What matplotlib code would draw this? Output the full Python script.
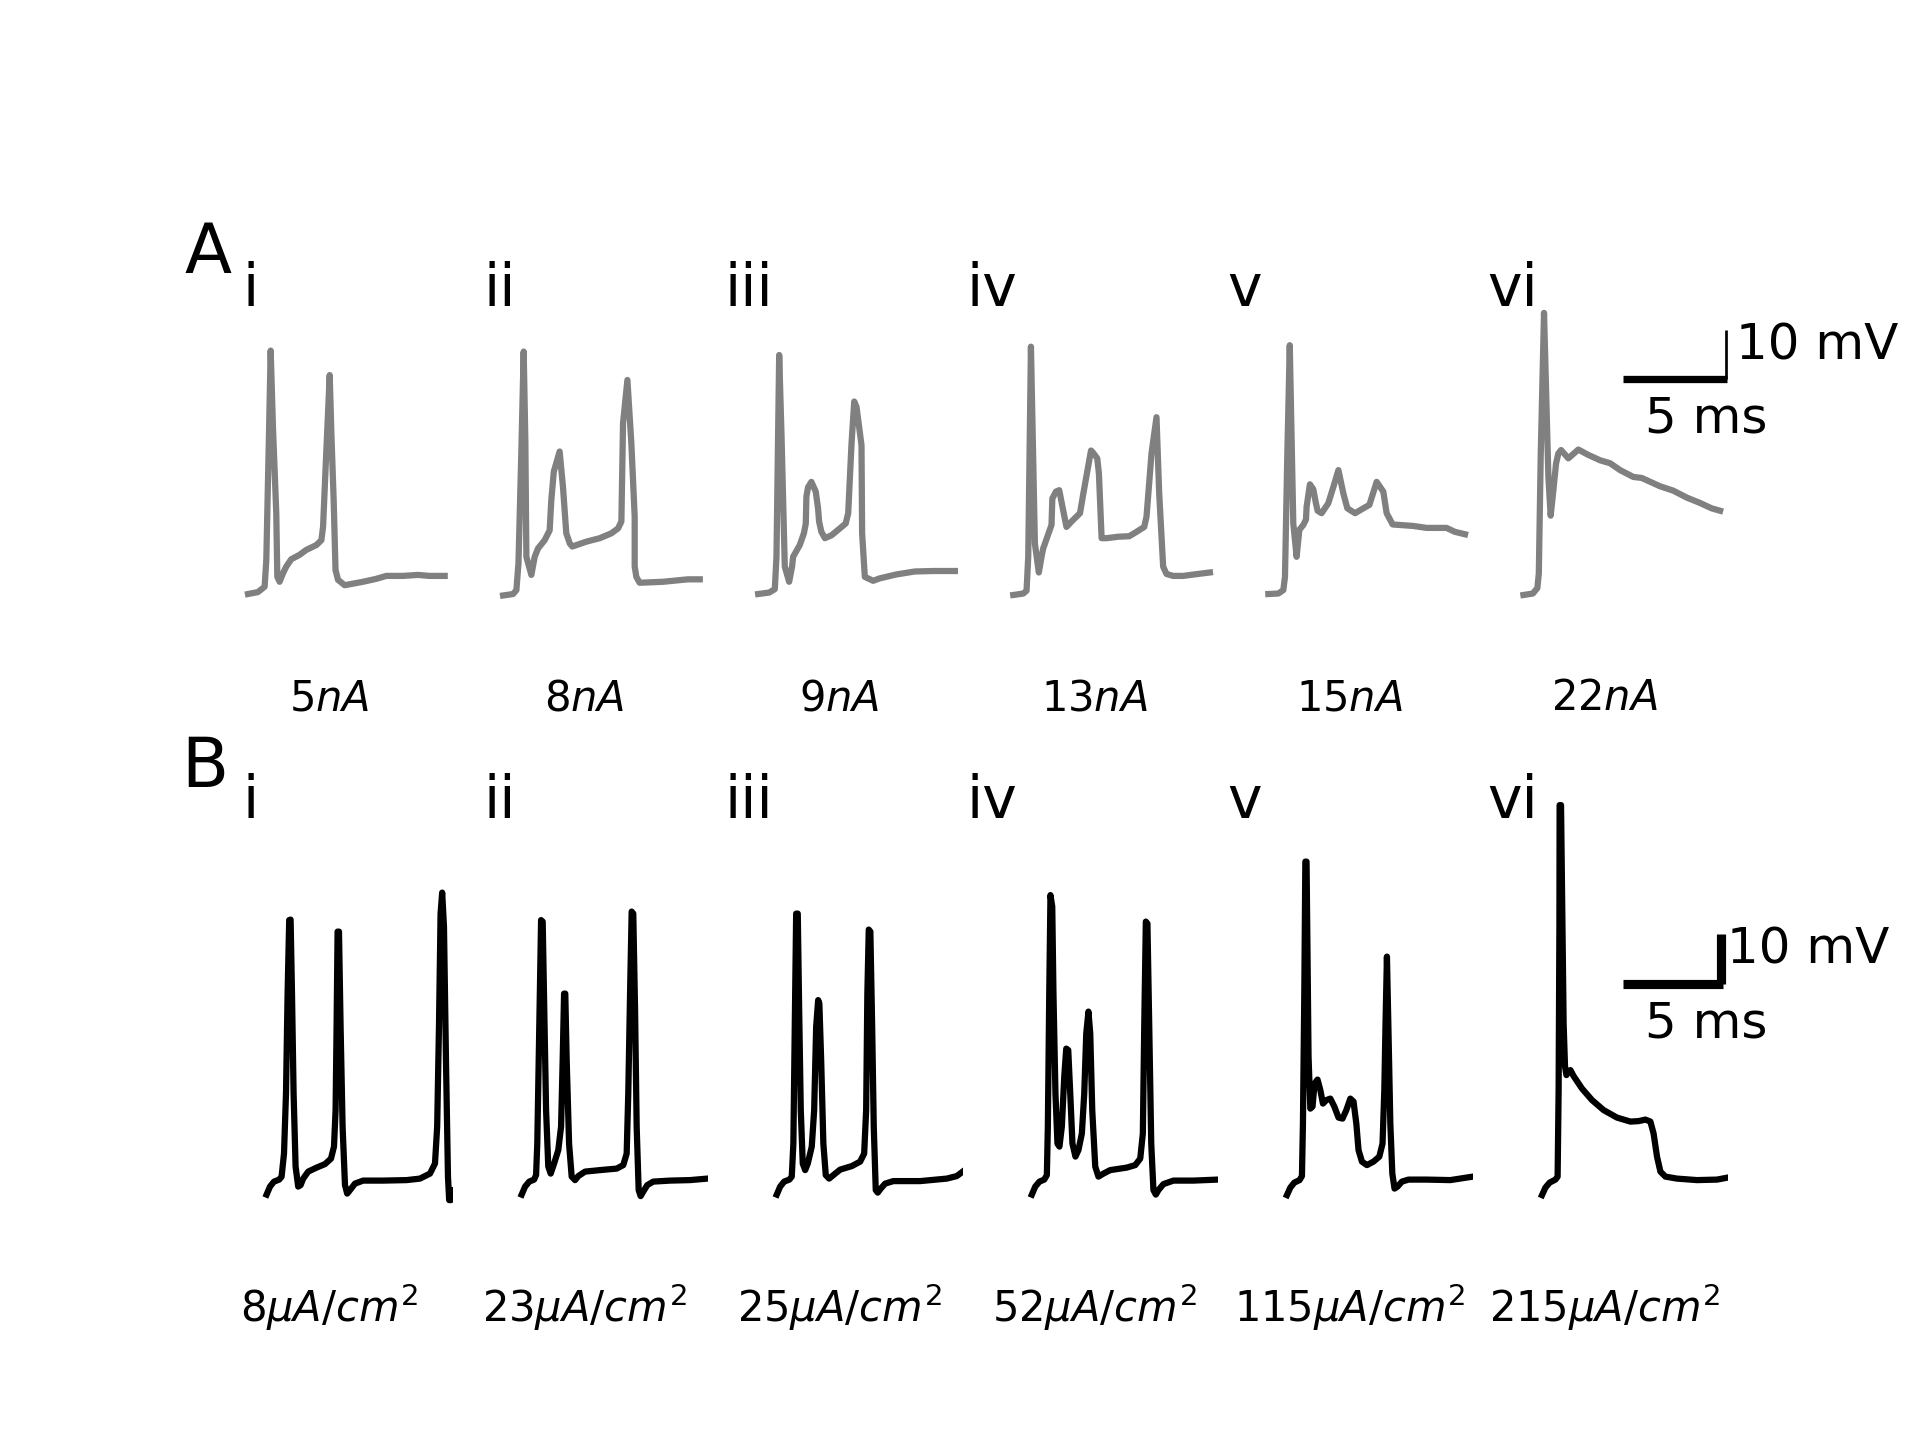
import matplotlib
matplotlib.use("Agg")
import matplotlib.pyplot as plt

# ---- data: recordings (A, grey) and model (B, black); time in ms, voltage in mV ----
a_i_t = [0, 0.48, 0.80, 0.88, 1.01, 1.09, 1.20, 1.36, 1.41, 1.52, 1.68, 1.84, 2.08, 2.48, 2.80, 3.29,
         3.53, 3.61, 3.77, 3.93, 4.01, 4.12, 4.21, 4.33, 4.65, 5.53, 6.17, 6.65, 7.45, 8.17, 8.73, 9.46]
a_i_v = [-70, -69.6, -68.5, -63.1, -37.2, -20.3, -35.9, -53.5, -66.5, -67.5, -65.8, -64.4, -62.9, -62.0,
         -61.0, -60.0, -59.0, -56.3, -40.6, -25.3, -37.2, -50.8, -65.1, -67.1, -68.2, -67.5, -66.9, -66.3,
         -66.3, -66.1, -66.3, -66.3]

a_ii_t = [0, 0.48, 0.64, 0.74, 0.88, 0.99, 1.07, 1.12, 1.36, 1.52, 1.68, 2.00, 2.24, 2.32, 2.44, 2.72,
          2.88, 3.04, 3.21, 3.33, 4.01, 4.65, 5.21, 5.53, 5.69, 5.77, 5.98, 6.17, 6.33, 6.33, 6.41, 6.57,
          7.69, 8.89, 9.46]
a_ii_v = [-70.3, -70, -69.2, -63.7, -40.6, -20.5, -38.6, -62.4, -66.1, -62.4, -60.7, -59.0, -57.0, -50.8,
          -45.0, -40.9, -48.1, -57.6, -59.7, -60.3, -59.3, -58.6, -57.6, -56.6, -55.2, -35.1, -26.3, -39.3,
          -54.2, -64.4, -66.5, -67.7, -67.5, -67.0, -67.0]

a_iii_t = [0, 0.53, 0.80, 0.88, 1.01, 1.12, 1.20, 1.28, 1.49, 1.63, 1.68, 2.00, 2.20, 2.29, 2.32, 2.40,
           2.56, 2.77, 2.88, 2.93, 3.04, 3.21, 3.53, 3.93, 4.21, 4.33, 4.49, 4.62, 4.73, 4.97, 5.00, 5.13,
           5.53, 5.85, 6.65, 7.53, 8.41, 9.46]
a_iii_v = [-70, -69.7, -69.0, -62.4, -21.2, -37.2, -50.8, -64.4, -67.5, -64.4, -62.4, -60.0, -57.6, -55.6,
           -50.1, -48.2, -47.1, -49.1, -52.5, -55.2, -57.3, -58.6, -58.0, -56.6, -55.6, -53.5, -39.3, -30.7,
           -31.8, -39.6, -57.6, -66.5, -67.3, -66.8, -66.0, -65.4, -65.3, -65.3]

a_iv_t = [0, 0.48, 0.64, 0.72, 0.85, 0.96, 1.04, 1.23, 1.36, 1.44, 1.84, 1.88, 2.05, 2.21, 2.40, 2.56,
          2.80, 3.21, 3.37, 3.74, 3.85, 4.04, 4.12, 4.25, 4.49, 5.05, 5.58, 5.93, 6.30, 6.41, 6.65, 6.89,
          7.02, 7.21, 7.37, 7.69, 8.17, 8.89, 9.46]
a_iv_v = [-70.2, -69.9, -69.3, -62.4, -19.5, -42.7, -59.7, -65.6, -62.4, -60.7, -55.9, -50.5, -49.1, -48.8,
          -52.9, -56.3, -55.2, -53.5, -49.5, -40.7, -41.2, -42.3, -45.4, -58.6, -58.6, -58.3, -58.2, -57.3,
          -56.3, -54.2, -41.3, -33.9, -49.5, -64.4, -65.9, -66.3, -66.3, -65.9, -65.6]

a_v_t = [0, 0.48, 0.72, 0.80, 0.91, 1.03, 1.12, 1.20, 1.36, 1.49, 1.68, 1.81, 1.84, 2.00, 2.16, 2.29,
         2.37, 2.56, 2.88, 3.13, 3.37, 3.61, 3.80, 4.17, 4.57, 4.86, 5.21, 5.53, 5.69, 5.98, 6.97, 7.61,
         8.57, 8.97, 9.46]
a_v_v = [-70, -69.9, -69.2, -66.5, -42.0, -19.2, -38.6, -55.6, -62.4, -56.9, -55.9, -54.8, -52.2, -47.6,
         -48.6, -51.5, -53.0, -53.5, -51.5, -48.1, -44.7, -49.5, -52.5, -53.5, -52.5, -51.8, -47.1, -49.1,
         -53.5, -55.8, -56.1, -56.5, -56.5, -57.3, -57.8]

a_vi_t = [0, 0.45, 0.67, 0.74, 0.83, 0.99, 1.09, 1.20, 1.31, 1.44, 1.57, 1.68, 1.81, 2.16, 2.64, 3.12,
          3.69, 4.17, 4.65, 5.29, 5.69, 6.57, 7.21, 7.85, 8.49, 9.05, 9.46]
a_vi_v = [-70.2, -69.9, -68.8, -65.8, -42.0, -12.6, -28.4, -46.1, -54.0, -48.8, -43.3, -41.3, -40.6, -42.3,
          -40.5, -41.6, -42.7, -43.3, -44.7, -46.1, -46.3, -48.0, -48.9, -50.3, -51.4, -52.5, -53.0]

b_i_t = [0, 0.17, 0.37, 0.63, 0.75, 0.87, 0.97, 1.05, 1.13, 1.20, 1.27, 1.35, 1.45, 1.58, 1.70, 1.83,
         2.08, 2.50, 2.92, 3.22, 3.37, 3.45, 3.50, 3.55, 3.62, 3.70, 3.80, 3.92, 4.03, 4.17, 4.42, 4.83,
         5.83, 7.00, 7.67, 8.17, 8.42, 8.53, 8.62, 8.70, 8.78, 8.87, 8.97, 9.07, 9.13, 9.22, 9.23]
b_i_v = [-69.9, -68.3, -67.3, -66.9, -66.3, -61.7, -49.7, -29.7, -15.0, -14.9, -29.7, -49.7, -64.3, -68.3,
         -68.0, -66.7, -65.3, -64.5, -63.8, -62.7, -60.3, -53.0, -36.3, -17.3, -17.3, -36.3, -56.3, -68.0,
         -69.7, -69.0, -67.7, -67.1, -67.1, -67.0, -66.7, -65.7, -63.7, -56.3, -36.3, -13.7, -9.5, -16.3,
         -43.0, -66.3, -71.0, -71.0, -69.0]

b_ii_t = [0, 0.17, 0.38, 0.62, 0.72, 0.78, 0.88, 0.97, 1.05, 1.13, 1.22, 1.33, 1.45, 1.62, 1.83, 1.97,
          2.05, 2.12, 2.18, 2.25, 2.37, 2.50, 2.67, 2.83, 3.17, 3.92, 4.75, 5.08, 5.25, 5.33, 5.42, 5.50,
          5.58, 5.67, 5.75, 5.85, 5.95, 6.08, 6.28, 6.58, 7.42, 8.42, 9.28]
b_ii_v = [-69.9, -68.3, -67.3, -66.9, -66.0, -59.7, -36.3, -15.0, -15.3, -33.0, -53.0, -64.3, -65.7, -63.7,
          -61.0, -56.3, -43.0, -29.7, -29.7, -43.0, -59.7, -66.3, -67.0, -66.2, -65.3, -65.0, -64.7, -64.0,
          -61.7, -49.7, -29.7, -13.3, -13.7, -33.0, -56.3, -69.0, -70.2, -69.3, -68.0, -67.3, -67.1, -67.0,
          -66.7]

b_iii_t = [0, 0.17, 0.37, 0.63, 0.75, 0.83, 0.90, 0.97, 1.05, 1.12, 1.20, 1.30, 1.42, 1.55, 1.75, 1.87,
           1.97, 2.07, 2.13, 2.22, 2.33, 2.45, 2.62, 2.83, 3.17, 3.75, 4.17, 4.37, 4.47, 4.53, 4.60, 4.68,
           4.77, 4.85, 4.95, 5.05, 5.20, 5.42, 5.83, 7.17, 8.50, 9.00, 9.30]
b_iii_v = [-69.9, -68.3, -67.3, -66.9, -66.3, -59.7, -36.3, -13.7, -13.7, -33.0, -53.0, -63.7, -65.0,
           -63.7, -60.3, -53.0, -36.3, -31.0, -31.7, -43.0, -59.7, -66.0, -66.7, -66.0, -64.9, -64.2, -63.3,
           -61.7, -53.0, -29.7, -16.9, -17.3, -36.3, -56.3, -69.0, -69.5, -68.7, -67.7, -67.2, -67.2, -66.7,
           -66.2, -65.3]

b_iv_t = [0, 0.17, 0.38, 0.62, 0.75, 0.80, 0.87, 0.93, 1.02, 1.08, 1.18, 1.28, 1.38, 1.50, 1.62, 1.72,
          1.82, 1.92, 2.03, 2.18, 2.33, 2.50, 2.62, 2.72, 2.83, 2.92, 3.02, 3.17, 3.33, 3.58, 3.92, 4.75,
          5.17, 5.42, 5.55, 5.62, 5.70, 5.78, 5.87, 5.97, 6.08, 6.20, 6.33, 6.58, 7.08, 8.08, 9.28]
b_iv_v = [-69.9, -68.3, -67.3, -66.9, -66.0, -56.3, -29.7, -10.0, -12.3, -29.7, -49.7, -59.7, -60.3, -56.3,
          -46.3, -40.7, -41.0, -49.7, -59.7, -62.3, -61.0, -57.7, -49.7, -37.7, -33.3, -37.7, -53.0, -64.3,
          -66.3, -65.7, -65.0, -64.5, -64.0, -62.7, -57.7, -36.3, -15.3, -15.7, -36.3, -59.7, -69.0, -69.9,
          -69.0, -67.8, -67.1, -67.1, -66.9]

b_v_t = [0, 0.17, 0.37, 0.63, 0.75, 0.80, 0.87, 0.92, 0.98, 1.03, 1.08, 1.17, 1.28, 1.38, 1.53, 1.67,
         1.80, 1.97, 2.17, 2.37, 2.58, 2.78, 2.97, 3.17, 3.33, 3.47, 3.58, 3.75, 4.00, 4.33, 4.62, 4.78,
         4.87, 4.93, 5.00, 5.07, 5.17, 5.27, 5.38, 5.53, 5.75, 6.08, 7.00, 8.17, 9.30]
b_v_v = [-70, -68.5, -67.5, -67.0, -66.2, -55.7, -29.0, -3.3, -3.3, -22.3, -42.3, -52.7, -52.3, -47.7,
         -46.9, -49.0, -51.7, -51.0, -50.7, -52.3, -54.5, -54.7, -53.0, -50.7, -51.3, -55.7, -61.0, -63.3,
         -64.0, -63.3, -62.3, -59.7, -49.0, -35.7, -22.3, -35.7, -55.7, -65.7, -68.7, -68.3, -67.3, -66.9,
         -66.9, -67.0, -66.3]

b_vi_t = [0, 0.17, 0.38, 0.67, 0.78, 0.83, 0.87, 0.88, 0.95, 1.02, 1.08, 1.15, 1.22, 1.30, 1.42, 1.58,
          2.00, 2.50, 3.08, 3.75, 4.42, 4.83, 5.17, 5.42, 5.58, 5.75, 5.92, 6.17, 6.75, 7.75, 8.75, 9.28]
b_vi_v = [-70, -68.5, -67.5, -66.9, -66.3, -49.0, -15.7, 8.0, 8.0, -15.7, -35.7, -44.3, -46.0, -45.3,
          -45.0, -46.2, -48.7, -51.0, -53.0, -54.5, -55.3, -55.2, -54.9, -55.3, -57.7, -62.3, -65.3, -66.3,
          -66.7, -67.0, -66.9, -66.5]

numerals = ["i", "ii", "iii", "iv", "v", "vi"]
stim_a = ["$5nA$", "$8nA$", "$9nA$", "$13nA$", "$15nA$", "$22nA$"]
stim_b = [r"$8\mu A/cm^2$", r"$23\mu A/cm^2$", r"$25\mu A/cm^2$",
          r"$52\mu A/cm^2$", r"$115\mu A/cm^2$", r"$215\mu A/cm^2$"]

traces_a = [(a_i_t, a_i_v), (a_ii_t, a_ii_v), (a_iii_t, a_iii_v),
            (a_iv_t, a_iv_v), (a_v_t, a_v_v), (a_vi_t, a_vi_v)]
traces_b = [(b_i_t, b_i_v), (b_ii_t, b_ii_v), (b_iii_t, b_iii_v),
            (b_iv_t, b_iv_v), (b_v_t, b_v_v), (b_vi_t, b_vi_v)]

W, H = 1920, 1440
fig, axes = plt.subplots(2, 6, figsize=(6.4, 4.8), dpi=300)


def ftext(x, y, s, **kw):
    # place text by pixel position in the 1920x1440 canvas
    fig.text(x / W, 1 - y / H, s, va="baseline", ha="left", **kw)


for ax, (t, v), lab in zip(axes[0], traces_a, stim_a):
    ax.plot(t, v, color="grey", lw=1.5)
    ax.set_xlim(-0.385, 9.84)
    ax.set_ylim(-86.9, 16.0)
    ax.axis("off")
    ax.text(0.42, -0.066, lab, transform=ax.transAxes, ha="center", va="baseline", fontsize=10)

for ax, (t, v), lab in zip(axes[1], traces_b, stim_b):
    ax.plot(t, v, color="black", lw=1.5, solid_joinstyle="round")
    ax.set_xlim(-1.33, 9.30)
    ax.set_ylim(-87.3, 13.5)
    ax.axis("off")
    ax.text(0.42, -0.08, lab, transform=ax.transAxes, ha="center", va="baseline", fontsize=10)

# scale bars (5 ms, 10 mV) in the last panel of each row
ax = axes[0][5]
ax.plot([4.77, 9.77], [-26.0, -26.0], color="black", lw=1.75, solid_capstyle="butt", clip_on=False)
ax.plot([9.72, 9.72], [-26.0, -16.0], color="black", lw=0.65, solid_capstyle="butt", clip_on=False)
ax = axes[1][5]
ax.plot([4.03, 9.03], [-27.7, -27.7], color="black", lw=2.2, solid_capstyle="butt", clip_on=False)
ax.plot([8.97, 8.97], [-27.7, -17.7], color="black", lw=2.2, solid_capstyle="butt", clip_on=False)

ftext(1736, 360, "10 mV", fontsize=12)
ftext(1645, 433, "5 ms", fontsize=12)
ftext(1727, 964, "10 mV", fontsize=12)
ftext(1645, 1037, "5 ms", fontsize=12)

# panel letters and roman numerals
ftext(184, 273, "A", fontsize=16.5)
ftext(181, 787, "B", fontsize=16.5)
num_x = [242, 483, 725, 966, 1227, 1487]
for x, s in zip(num_x, numerals):
    ftext(x, 306, s, fontsize=14)
    ftext(x, 818, s, fontsize=14)

fig.savefig("out.png", dpi=300)
